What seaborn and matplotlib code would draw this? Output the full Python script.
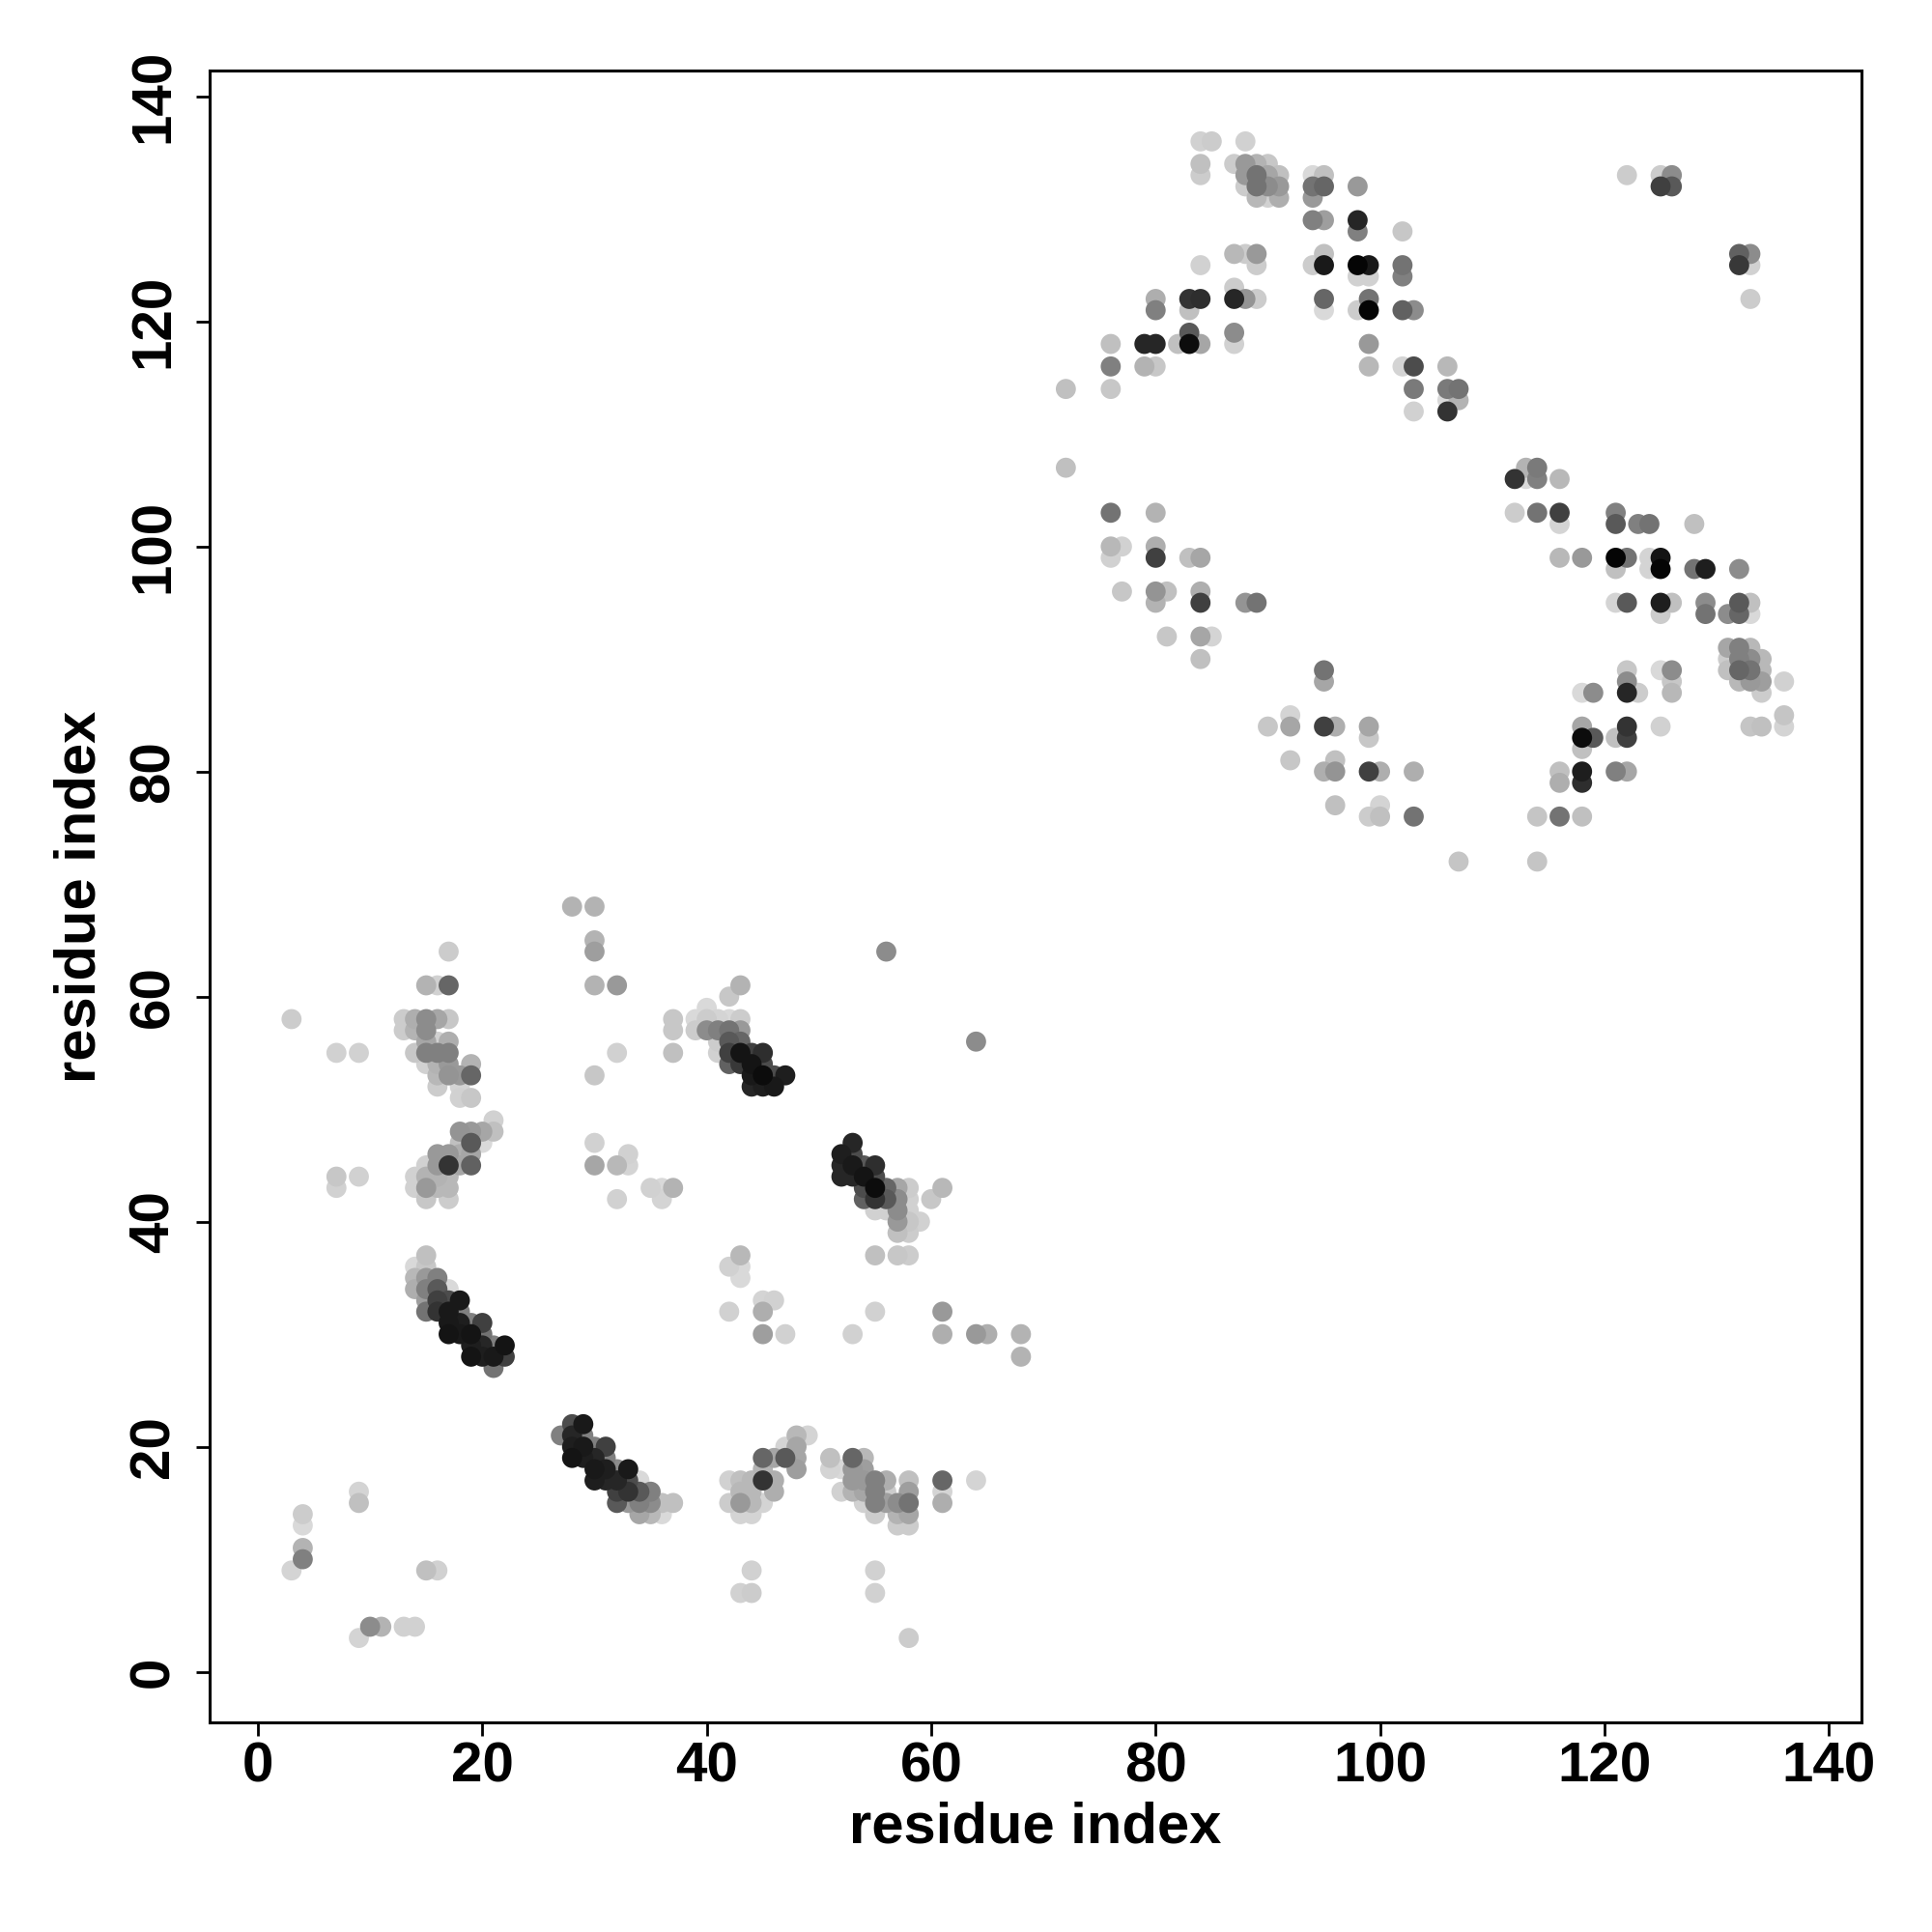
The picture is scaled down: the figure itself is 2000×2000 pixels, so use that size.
import matplotlib
matplotlib.use('Agg')
import pandas as pd
import matplotlib.pyplot as plt
import seaborn as sns
from matplotlib.colors import LinearSegmentedColormap

# (residue i, residue j, grey shade 0=black .. 1=white)
contacts_n = [
    (3, 58, .80), (17, 64, .80), (15, 61, .70), (16, 61, .82), (17, 61, .40),
    (13, 58, .80), (14, 58, .68), (15, 58, .55), (16, 58, .65), (17, 58, .78),
    (13, 57, .80), (14, 57, .70), (15, 57, .55),
    (15, 56, .65), (16, 56, .82), (17, 56, .68),
    (14, 55, .78), (15, 55, .50), (16, 55, .50), (17, 55, .50),
    (15, 54, .82), (16, 54, .70), (17, 54, .60), (19, 54, .70),
    (16, 53, .72), (17, 53, .58), (18, 53, .60), (19, 53, .40),
    (16, 52, .80), (18, 52, .83), (18, 51, .82), (19, 51, .78),
    (21, 49, .82), (18, 48, .58), (19, 48, .60), (20, 48, .65), (21, 48, .75),
    (18, 47, .75), (19, 47, .35), (20, 47, .85),
    (16, 46, .60), (17, 46, .60), (18, 46, .68), (19, 46, .65),
    (15, 45, .82), (16, 45, .60), (17, 45, .20), (18, 45, .65), (19, 45, .38),
    (14, 44, .82), (15, 44, .70), (16, 44, .70), (17, 44, .72),
    (14, 43, .82), (15, 43, .60), (16, 43, .72), (17, 43, .72),
    (15, 42, .78), (17, 42, .80),
    (7, 44, .78), (7, 43, .82), (9, 44, .82), (7, 55, .82), (9, 55, .82),
    (15, 37, .75), (14, 36, .85), (15, 36, .78),
    (14, 35, .72), (15, 35, .60), (16, 35, .50),
    (14, 34, .68), (15, 34, .50), (16, 34, .35), (17, 34, .85),
    (15, 33, .62), (16, 33, .25), (17, 33, .30), (18, 33, .10),
    (15, 32, .45), (16, 32, .20), (17, 32, .10), (18, 32, .50),
    (17, 31, .10), (18, 31, .12), (19, 31, .50), (20, 31, .25),
    (17, 30, .08), (18, 30, .10), (19, 30, .08), (20, 30, .45),
    (19, 29, .12), (20, 29, .15), (21, 29, .50), (22, 29, .08),
    (19, 28, .08), (20, 28, .12), (21, 28, .10), (22, 28, .25),
    (21, 27, .45),
    (9, 16, .83), (9, 15, .75), (4, 14, .80), (4, 13, .85), (4, 11, .70),
    (4, 10, .50), (3, 9, .83), (15, 9, .75), (16, 9, .82),
    (10, 4, .55), (11, 4, .70), (13, 4, .82), (14, 4, .82), (9, 3, .83),
    (28, 68, .70), (30, 68, .70), (30, 65, .70), (30, 64, .62),
    (30, 61, .70), (32, 61, .60), (32, 55, .82), (30, 53, .78),
    (37, 58, .78), (37, 57, .78), (37, 55, .75),
    (43, 61, .70), (42, 60, .78), (40, 59, .85),
    (39, 58, .85), (40, 58, .80), (41, 58, .83), (42, 58, .85), (43, 58, .80),
    (39, 57, .80), (40, 57, .55), (41, 57, .50), (42, 57, .45), (43, 57, .60),
    (41, 56, .80), (42, 56, .35), (43, 56, .40),
    (41, 55, .82), (42, 55, .25), (43, 55, .08), (44, 55, .25), (45, 55, .18),
    (42, 54, .38), (43, 54, .22), (44, 54, .08), (45, 54, .30),
    (44, 53, .10), (45, 53, .05), (46, 53, .30), (47, 53, .12),
    (44, 52, .15), (45, 52, .12), (46, 52, .10),
    (30, 47, .82), (33, 46, .82), (30, 45, .65), (32, 45, .72), (33, 45, .83),
    (35, 43, .82), (36, 43, .85), (37, 43, .70), (32, 42, .82), (36, 42, .83),
    (43, 37, .72), (42, 36, .82), (43, 36, .85), (43, 35, .85),
    (56, 64, .55), (64, 56, .55),
    (53, 47, .15), (52, 46, .12), (53, 46, .30),
    (52, 45, .15), (53, 45, .10), (54, 45, .35), (55, 45, .18),
    (52, 44, .15), (53, 44, .15), (54, 44, .08), (55, 44, .30),
    (54, 43, .30), (55, 43, .05), (56, 43, .40), (57, 43, .65), (58, 43, .80), (61, 43, .72),
    (54, 42, .38), (55, 42, .20), (56, 42, .35), (57, 42, .55), (58, 42, .82), (60, 42, .78),
    (55, 41, .82), (56, 41, .82), (57, 41, .55), (58, 41, .82),
    (57, 40, .60), (58, 40, .78), (59, 40, .82), (57, 39, .75), (58, 39, .80),
    (55, 37, .75), (57, 37, .78), (58, 37, .80),
    (42, 32, .82), (45, 33, .83), (46, 33, .82), (45, 32, .68), (45, 30, .62), (47, 30, .82),
    (28, 22, .30), (29, 22, .10), (27, 21, .50), (28, 21, .15), (29, 21, .50),
    (28, 20, .12), (29, 20, .10), (30, 20, .50), (31, 20, .25),
    (28, 19, .08), (29, 19, .12), (30, 19, .15), (31, 19, .50),
    (30, 18, .10), (31, 18, .12), (32, 18, .55), (33, 18, .10),
    (30, 17, .12), (31, 17, .15), (32, 17, .15), (33, 17, .30), (34, 17, .85),
    (32, 16, .25), (33, 16, .20), (34, 16, .35), (35, 16, .50),
    (32, 15, .35), (33, 15, .60), (34, 15, .50), (35, 15, .55), (36, 15, .75), (37, 15, .75),
    (34, 14, .65), (35, 14, .72), (36, 14, .85),
    (42, 17, .82), (42, 15, .80), (43, 17, .75), (43, 16, .72), (43, 15, .60),
    (43, 14, .83), (44, 14, .83), (44, 17, .72), (44, 16, .72), (44, 15, .72),
    (45, 19, .40), (45, 18, .70), (45, 17, .20), (45, 15, .83),
    (46, 19, .65), (46, 17, .68), (46, 16, .68), (47, 19, .35), (47, 20, .83),
    (48, 21, .72), (48, 20, .65), (48, 19, .65), (48, 18, .62), (49, 21, .83),
    (44, 9, .82), (43, 7, .82), (44, 7, .80),
    (55, 32, .82), (61, 32, .60), (53, 30, .82), (61, 30, .68), (64, 30, .60),
    (65, 30, .68), (68, 30, .70), (68, 28, .70),
    (51, 19, .75), (53, 19, .40), (54, 19, .72),
    (51, 18, .83), (52, 18, .85), (53, 18, .60), (54, 18, .62),
    (53, 17, .60), (54, 17, .60), (55, 17, .50), (56, 17, .68), (58, 17, .75), (61, 17, .40), (64, 17, .83),
    (52, 16, .82), (53, 16, .70), (54, 16, .65), (55, 16, .50), (56, 16, .80), (58, 16, .62), (61, 16, .83),
    (54, 15, .82), (55, 15, .50), (56, 15, .62), (57, 15, .55), (58, 15, .45), (61, 15, .68),
    (55, 14, .80), (57, 14, .70), (58, 14, .65), (57, 13, .80), (58, 13, .80),
    (55, 9, .82), (55, 7, .82), (58, 3, .80),
]

contacts_c = [
    (84, 136, .82), (85, 136, .80), (88, 136, .82), (84, 134, .75), (84, 133, .80),
    (87, 134, .80), (88, 134, .60), (89, 134, .70), (90, 134, .78),
    (88, 133, .60), (89, 133, .45), (90, 133, .65), (91, 133, .75),
    (88, 132, .80), (89, 132, .45), (90, 132, .55), (91, 132, .60),
    (89, 131, .72), (90, 131, .82), (91, 131, .68),
    (94, 133, .85), (95, 133, .75), (94, 132, .45), (95, 132, .40), (94, 131, .60),
    (94, 129, .50), (95, 129, .62), (98, 132, .60),
    (98, 129, .15), (98, 128, .50), (102, 128, .78), (84, 125, .82),
    (87, 126, .72), (88, 126, .80), (89, 126, .60), (89, 125, .80),
    (94, 125, .80), (95, 126, .75), (95, 125, .10), (87, 123, .80),
    (87, 122, .15), (88, 122, .58), (89, 122, .80),
    (83, 122, .20), (84, 122, .18), (83, 121, .75), (80, 122, .68), (80, 121, .50),
    (83, 119, .35), (87, 119, .55),
    (82, 118, .75), (83, 118, .05), (84, 118, .65), (87, 118, .82),
    (79, 118, .15), (80, 118, .15), (76, 118, .75), (76, 116, .50),
    (79, 116, .70), (80, 116, .78), (72, 114, .75), (76, 114, .78), (72, 107, .75),
    (98, 125, .02), (99, 125, .10), (98, 124, .82), (99, 124, .82),
    (102, 125, .45), (102, 124, .50), (95, 122, .40), (95, 121, .85),
    (98, 121, .80), (99, 122, .45), (99, 121, .02), (102, 121, .38), (103, 121, .55),
    (99, 118, .60), (99, 116, .72), (102, 116, .83), (103, 116, .30), (106, 116, .72),
    (103, 114, .48), (106, 114, .48), (107, 114, .45), (106, 113, .85), (107, 113, .70),
    (103, 112, .82), (106, 112, .20),
    (112, 106, .20), (113, 107, .70), (113, 106, .85), (114, 107, .48), (114, 106, .50), (116, 106, .72),
    (122, 133, .80), (125, 133, .80), (126, 133, .55), (125, 132, .25), (126, 132, .35),
    (132, 126, .38), (133, 126, .55), (132, 125, .22), (133, 125, .82), (133, 122, .80),
    (76, 103, .45), (80, 103, .70), (76, 100, .72), (77, 100, .82), (76, 99, .82),
    (80, 100, .68), (80, 99, .25), (83, 99, .75), (84, 99, .65), (77, 96, .78),
    (80, 96, .58), (81, 96, .75), (80, 95, .70), (84, 96, .68), (84, 95, .25),
    (88, 95, .58), (89, 95, .45), (81, 92, .78), (84, 92, .65), (85, 92, .83), (84, 90, .75),
    (90, 84, .78), (92, 85, .83), (92, 84, .65), (92, 81, .78),
    (112, 103, .80), (114, 103, .45), (116, 103, .25), (116, 102, .83), (116, 99, .72),
    (95, 89, .45), (95, 88, .65), (95, 84, .25), (96, 84, .68), (99, 84, .65), (99, 83, .78),
    (95, 80, .68), (96, 81, .75), (96, 80, .58), (99, 80, .25), (100, 80, .68), (103, 80, .68),
    (96, 77, .75), (99, 76, .80), (100, 77, .83), (100, 76, .75), (103, 76, .45),
    (107, 72, .77), (114, 76, .77), (116, 76, .45), (114, 72, .77), (118, 76, .75),
    (121, 103, .50), (121, 102, .35), (123, 102, .50), (124, 102, .45), (128, 102, .75),
    (118, 99, .60), (121, 99, .02), (122, 99, .45), (121, 98, .75),
    (124, 99, .83), (125, 99, .08), (125, 98, .02), (124, 98, .83),
    (128, 98, .45), (129, 98, .12), (132, 98, .55), (121, 95, .83), (122, 95, .35),
    (125, 95, .12), (126, 95, .75), (125, 94, .80), (129, 95, .55), (129, 94, .45),
    (131, 94, .55), (132, 95, .35), (132, 94, .40), (133, 95, .75), (133, 94, .85),
    (131, 91, .65), (132, 91, .50), (133, 91, .72),
    (131, 90, .80), (132, 90, .50), (133, 90, .55), (134, 90, .72),
    (131, 89, .75), (132, 89, .40), (133, 89, .45), (134, 89, .72),
    (132, 88, .72), (133, 88, .60), (134, 88, .62), (134, 87, .80), (136, 88, .82),
    (122, 89, .78), (122, 88, .55), (122, 87, .15), (123, 87, .80),
    (125, 89, .85), (126, 89, .55), (126, 88, .78), (126, 87, .72),
    (118, 87, .85), (119, 87, .55), (118, 84, .65), (118, 83, .05), (119, 83, .35), (118, 82, .75),
    (122, 84, .20), (122, 83, .25), (121, 83, .75), (125, 84, .82),
    (133, 84, .77), (134, 84, .75), (136, 85, .77), (136, 84, .83),
    (116, 80, .75), (116, 79, .68), (118, 80, .12), (118, 79, .18), (121, 80, .50), (122, 80, .65),
]

ticks = [0, 20, 40, 60, 80, 100, 120, 140]

df = pd.DataFrame(contacts_n + contacts_c, columns=['i', 'j', 'shade'])
df = df.sort_values('shade', ascending=False)   # dark contacts on top

sns.set_theme(style='white')
plt.rcParams['font.family'] = ['Liberation Sans', 'DejaVu Sans']
plt.rcParams['font.weight'] = 'bold'
plt.rcParams['text.color'] = 'black'
plt.rcParams['axes.labelcolor'] = 'black'
plt.rcParams['xtick.color'] = 'black'
plt.rcParams['ytick.color'] = 'black'

greys = LinearSegmentedColormap.from_list('grey', ['black', 'white'])

fig = plt.figure(figsize=(10, 10), dpi=200)
ax = fig.add_axes([0.1085, 0.1085, 0.855, 0.855])

sns.scatterplot(data=df, x='i', y='j', hue='shade', palette=greys,
                hue_norm=(0, 1), s=56, linewidth=0, legend=False, ax=ax)

ax.set_xlim(-4.3, 142.9)
ax.set_ylim(-4.5, 142.3)
ax.set_xticks(ticks)
ax.set_yticks(ticks)
ax.set_xticklabels([str(t) for t in ticks], fontsize=21, fontweight='bold')
ax.set_yticklabels([str(t) for t in ticks], fontsize=21, fontweight='bold',
                   rotation=90, va='center')
ax.tick_params(axis='both', direction='out', length=5, width=1.0,
               colors='black', bottom=True, left=True, pad=2)
ax.tick_params(axis='y', pad=6)
for sp in ax.spines.values():
    sp.set_color('black')
    sp.set_linewidth(1.1)

ax.set_xlabel('residue index', fontsize=21.5, fontweight='bold', labelpad=3)
ax.set_ylabel('residue index', fontsize=21.5, fontweight='bold', labelpad=8)

fig.savefig('out.png', dpi=200, facecolor='white')
